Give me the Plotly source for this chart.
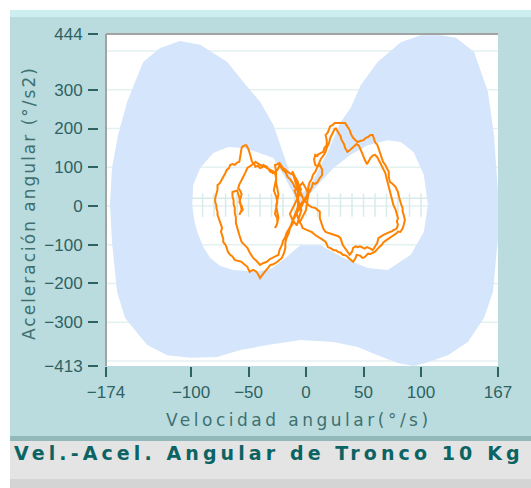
import plotly.graph_objects as go

# ---------------- data ----------------
X_RANGE = [-174, 167]
Y_RANGE = [-413, 444]
X_TICKS = [-174, -100, -50, 0, 50, 100, 167]
X_TICKTEXT = ["\u2212174", "\u2212100", "\u221250", "0", "50", "100", "167"]
Y_TICKS = [444, 300, 200, 100, 0, -100, -200, -300, -413]
Y_TICKTEXT = ["444", "300", "200", "100", "0", "\u2212100", "\u2212200", "\u2212300", "\u2212413"]
GRID_Y = [-400, -300, -200, -100, 0, 100, 200, 300, 400]
LADDER_X = [-100, -90, -80, -70, -60, -50, -40, -30, -20, -10, 0, 10, 20, 30, 40, 50, 60, 70, 80, 90, 100, 110]

# normative area (velocity, acceleration) - outer boundary
OUTER_V = [-109.5, -92, -68.5, -54.5, -39.7, -28.4, -17.9, -11.8, -5.7, -0.5, 6.5, 18.7, 30.1, 38.8, 47.5,
           62.3, 82.4, 99.8, 117.3, 130.4, 146.1, 158.3, 163.5, 167, 167, 162.6, 154.8, 140.8, 123.4, 106,
           93.7, 79.8, 62.3, 44.9, 24, -4.8, -33.6, -57.1, -77.2, -100.7, -120.8, -138.2, -157.4, -164.4,
           -168.8, -170.5, -168.8, -163.5, -155.7, -141.7, -126.9]
OUTER_A = [426, 416, 372, 320, 268, 209, 119, 67, 28, 41, 67, 139, 217, 253, 312,
           372, 423, 441, 441, 434, 398, 294, 183, 36, -83, -222, -289, -351, -385, -403,
           -413, -405, -385, -364, -351, -346, -359, -372, -390, -392, -385, -359, -289, -222,
           -93, 3, 98, 183, 268, 372, 408]
# inner (white) region
HOLE_V = [-28.4, -42.3, -54.5, -67.6, -80.7, -92, -98.1, -99, -97.3, -94.6, -89.4, -83.3, -74.6, -63.2,
          -42.3, -29.2, -17.9, -5, 12.6, 32.7, 53.6, 71.1, 91.1, 102.5, 106, 102.5, 93.7, 82.4, 71.1,
          53.6, 38.8, 24, 12.6, 1.3, -5, -11.8, -19.6]
HOLE_A = [124, 139, 150, 152, 137, 98, 54, 3, -36, -67, -106, -134, -155, -165,
          -170, -160, -134, -101, -101, -134, -160, -165, -126, -67, 3, 80, 139, 165, 170,
          157, 132, 98, 62, 23, -5, 36, 80]

# trunk trajectory: (velocity deg/s, acceleration deg/s2)
TRAJECTORY = [
    # left outer loop
    (-3, 23), (-5, 30), (-7, 36), (-8, 44), (-10, 49), (-11, 57), (-12, 62), (-14, 70), (-16, 75), (-17, 83),
    (-18, 88), (-20, 92), (-21, 98), (-22, 104), (-23, 106), (-24, 98), (-25, 93), (-27, 88), (-29, 85),
    (-30, 90), (-31, 88), (-33, 96), (-34, 101), (-36, 104), (-37, 106), (-38, 100), (-40, 98), (-42, 104),
    (-44, 101), (-45, 108), (-47, 114), (-48, 126), (-49, 139), (-50, 146), (-51, 152), (-52, 157), (-53, 157),
    (-55, 154), (-56, 150), (-57, 132), (-58, 114), (-60, 112), (-62, 106), (-64, 108), (-66, 106), (-67, 98),
    (-69, 93), (-70, 86), (-71, 80), (-73, 70), (-75, 59), (-76, 56), (-77, 54), (-77, 42), (-78, 30), (-79, 20),
    (-79, 10), (-78, 2), (-78, -5), (-77, -15), (-77, -23), (-76, -32), (-75, -40), (-74, -50), (-73, -57),
    (-74, -66), (-73, -75), (-72, -85), (-72, -93), (-70, -100), (-69, -108), (-68, -118), (-66, -126),
    (-64, -130), (-62, -139), (-59, -141), (-56, -144), (-54, -150), (-51, -157), (-50, -164), (-49, -170),
    (-47, -166), (-46, -165), (-44, -168), (-43, -170), (-41, -180), (-40, -186), (-38, -178), (-36, -170),
    (-34, -161), (-31, -152), (-29, -151), (-28, -150), (-26, -146), (-25, -144), (-23, -139), (-21, -134),
    (-19, -120), (-18, -108), (-18, -95), (-17, -83), (-15, -70), (-14, -57), (-12, -48), (-11, -41),
    (-11, -32), (-10, -23), (-8, -10), (-5, 3),
    # right outer loop
    (-2, 15), (0, 25), (2, 30), (3, 36), (5, 48), (6, 59), (8, 57), (10, 62), (12, 72), (14, 80), (14, 94),
    (12, 106), (10, 102), (8, 106), (7, 120), (8, 132), (10, 128), (10, 132), (13, 137), (15, 140), (16, 150),
    (18, 157), (18, 170), (17, 183), (19, 190), (20, 200), (21, 206), (23, 209), (25, 214), (27, 214), (31, 215),
    (34, 214), (36, 205), (38, 196), (39, 186), (41, 176), (43, 170), (45, 165), (47, 168), (50, 170), (52, 176),
    (54, 178), (56, 183), (58, 183), (59, 175), (60, 165), (62, 158), (63, 150), (64, 140), (65, 130), (66, 122),
    (67, 114), (69, 106), (70, 100), (71, 94), (72, 88), (72, 75), (73, 62), (75, 58), (78, 49), (79, 42),
    (80, 36), (81, 22), (82, 10), (83, 2), (84, -5), (84, -14), (85, -23), (86, -36), (85, -49), (84, -58),
    (82, -67), (80, -66), (79, -70), (77, -74), (75, -78), (73, -80), (71, -85), (69, -90), (67, -95),
    (66, -100), (64, -105), (62, -112), (60, -118), (58, -121), (56, -124), (54, -123), (53, -126), (51, -132),
    (49, -134), (47, -128), (44, -126), (43, -135), (41, -144), (39, -140), (37, -134), (35, -128), (32, -126),
    (30, -120), (28, -119), (26, -114), (24, -114), (22, -110), (19, -106), (18, -98), (17, -93), (15, -88),
    (12, -83), (10, -78), (8, -75), (6, -70), (5, -67), (3, -65), (1, -62), (-1, -60), (-3, -57), (-4, -48),
    (-6, -40), (-7, -30), (-8, -20), (-8, -10), (-7, 0),
    # left inner loop
    (-7, 20), (-7, 40), (-8, 52), (-7, 62), (-9, 72), (-11, 80), (-14, 85), (-16, 88), (-18, 94), (-20, 98),
    (-22, 106), (-23, 111), (-25, 108), (-27, 106), (-26, 88), (-26, 70), (-27, 55), (-28, 40), (-26, 25),
    (-25, 10), (-26, -5), (-27, -20), (-25, -32), (-25, -45), (-26, -52), (-27, -57), (-25, -44), (-24, -30),
    (-25, -15), (-26, 0), (-25, 15), (-24, 30), (-25, 45), (-26, 60), (-26, 72), (-27, 85), (-29, 90),
    (-31, 93), (-33, 98), (-36, 101), (-38, 104), (-40, 106), (-42, 111), (-44, 114), (-45, 110), (-47, 106),
    (-49, 100), (-51, 98), (-53, 85), (-55, 75), (-56, 67), (-58, 56), (-59, 46), (-57, 38), (-56, 30),
    (-57, 20), (-58, 10), (-56, 0), (-55, -10), (-57, -16), (-58, -23), (-56, -10), (-57, 5), (-58, 22),
    (-60, 40), (-62, 38), (-64, 36), (-64, 25), (-63, 15), (-63, 5), (-62, -5), (-62, -18), (-61, -30),
    (-61, -44), (-60, -57), (-59, -66), (-58, -75), (-57, -84), (-56, -93), (-54, -99), (-51, -108),
    (-49, -120), (-46, -134), (-43, -142), (-40, -152), (-37, -147), (-34, -144), (-32, -138), (-29, -134),
    (-27, -131), (-24, -126), (-23, -113), (-21, -101), (-20, -90), (-18, -80), (-17, -70), (-15, -60),
    (-13, -50), (-12, -40), (-10, -32), (-9, -25), (-8, -17), (-6, -10), (-4, -2), (-3, 5),
    # right inner loop
    (0, 20), (1, 30), (2, 40), (2, 50), (3, 60), (5, 70), (6, 80), (8, 88), (9, 95), (10, 105), (12, 115),
    (13, 122), (15, 130), (17, 140), (18, 150), (20, 162), (21, 175), (23, 186), (24, 195), (25, 199),
    (26, 200), (27, 195), (28, 190), (30, 180), (31, 170), (33, 160), (34, 150), (35, 145), (36, 140),
    (38, 144), (40, 150), (42, 156), (44, 160), (46, 156), (47, 150), (49, 135), (51, 120), (52, 112),
    (53, 108), (55, 118), (56, 124), (58, 130), (60, 132), (62, 126), (63, 120), (64, 112), (65, 106),
    (67, 95), (69, 85), (70, 72), (71, 60), (72, 48), (73, 36), (75, 20), (76, 3), (78, -10), (79, -23),
    (80, -32), (79, -40), (80, -48), (79, -57), (78, -60), (76, -62), (75, -65), (73, -67), (70, -70),
    (67, -75), (65, -79), (63, -83), (62, -95), (60, -106), (59, -110), (58, -114), (56, -110), (53, -106),
    (51, -110), (49, -108), (47, -104), (45, -106), (43, -104), (41, -108), (40, -118), (38, -126),
    (37, -122), (36, -119), (34, -110), (32, -101), (31, -92), (30, -83), (28, -78), (25, -75), (23, -72),
    (21, -70), (19, -69), (17, -67), (15, -58), (14, -49), (13, -40), (12, -31), (12, -23), (12, -15),
    (10, -10), (8, -5), (5, -3), (3, 0), (0, 10),
    # dense centre crossing
    (-2, 15), (-5, 38), (-8, 60), (-6, 50), (-4, 40), (-8, 65), (-12, 90), (-10, 70), (-6, 30), (-9, 10),
    (-14, -20), (-12, -35), (-8, -50), (-6, -30), (-4, -10), (-7, 15), (-10, 40), (-6, 50), (-3, 60),
    (0, 45), (2, 30), (1, 10), (0, -10), (-3, -28), (-6, -45),
]
VEL = [p[0] for p in TRAJECTORY]
ACC = [p[1] for p in TRAJECTORY]

TITLE = "Vel.-Acel. Angular de Tronco 10 Kg"
X_TITLE = "Velocidad angular(°/s)"
Y_TITLE = "Aceleración angular (°/s2)"

# ---------------- styles ----------------
TEAL = "#badcdf"
BLUE = "#d5e5fb"
GRID = "#e4f1f1"
LADDER = "#d8eaea"
ORANGE = "#ff8200"
TXT = "#2f6262"
W, H = 531, 488
ML, MR, MT, MB = 98, 33, 34, 122
PW, PH = W - ML - MR, H - MT - MB


def px(x):
    return (x - ML) / PW


def py(y):
    return (H - MB - y) / PH


def path(xs, ys):
    return "M " + " L ".join(f"{a},{b}" for a, b in zip(xs, ys)) + " Z"


fig = go.Figure()
fig.add_trace(go.Scatter(x=VEL, y=ACC, mode="lines",
                         line=dict(color=ORANGE, width=2), hoverinfo="skip",
                         showlegend=False))

shapes = []
for g in GRID_Y:
    shapes.append(dict(type="line", xref="x", yref="y", x0=X_RANGE[0], x1=X_RANGE[1], y0=g, y1=g,
                       line=dict(color=GRID, width=1.5), layer="below"))
shapes.append(dict(type="line", xref="x", yref="y", x0=LADDER_X[0], x1=LADDER_X[-1], y0=20, y1=20,
                   line=dict(color=LADDER, width=1.5), layer="below"))
for lx in LADDER_X:
    shapes.append(dict(type="line", xref="x", yref="y", x0=lx, x1=lx, y0=-28, y1=32,
                       line=dict(color=LADDER, width=1.5), layer="below"))
shapes.append(dict(type="path", xref="x", yref="y", layer="below",
                   path=path(OUTER_V, OUTER_A) + " " + path(HOLE_V, HOLE_A),
                   fillcolor=BLUE, fillrule="evenodd", line=dict(width=0)))

x_dom0 = 8 / PW


def rect(x0, x1, y0, y1, color):
    return dict(type="rect", xref="paper", yref="paper", x0=px(x0), x1=px(x1), y0=py(y1), y1=py(y0),
                fillcolor=color, line=dict(width=0), layer="above")


shapes += [
    rect(0, 10, 0, H, "#ffffff"),
    rect(0, W, 0, 10, "#ffffff"),
    rect(10, W, 10, 17, "#cdeef0"),
    rect(10, W, 436, 441, "#93b8ba"),
    rect(10, W, 441, 479, "#e4e4e4"),
    rect(10, W, 479, H, "#d4d4d4"),
]
shapes.append(dict(type="line", xref="paper", yref="paper", x0=x_dom0, x1=1, y0=1, y1=1,
                   line=dict(color="#a3a3a3", width=2), layer="above"))
shapes.append(dict(type="line", xref="paper", yref="paper", x0=x_dom0, x1=x_dom0, y0=0, y1=1,
                   line=dict(color="#a3a3a3", width=2), layer="above"))

ann = [
    dict(text=f'<span style="letter-spacing:4.1px">{TITLE}</span>', xref="paper", yref="paper",
         x=px(12), y=py(453), xanchor="left", yanchor="middle", showarrow=False,
         font=dict(family="DejaVu Sans", size=19, color="#0b6363", weight="bold")),
    dict(text=f'<span style="letter-spacing:3.5px">{X_TITLE}</span>', xref="paper", yref="paper",
         x=px(299), y=py(420), xanchor="center", yanchor="middle", showarrow=False,
         font=dict(family="DejaVu Sans", size=17, color="#3f7070")),
    dict(text=f'<span style="letter-spacing:2px">{Y_TITLE}</span>', xref="paper", yref="paper",
         x=px(29), y=py(203), xanchor="center", yanchor="middle", showarrow=False, textangle=-90,
         font=dict(family="DejaVu Sans", size=17, color="#3f7070")),
]

fig.update_layout(
    width=W, height=H, margin=dict(l=ML, r=MR, t=MT, b=MB, pad=0),
    paper_bgcolor=TEAL, plot_bgcolor="#ffffff",
    shapes=shapes, annotations=ann, showlegend=False,
    xaxis=dict(range=X_RANGE, domain=[x_dom0, 1], tickvals=X_TICKS, ticktext=X_TICKTEXT,
               showgrid=False, zeroline=False, showline=False, ticks="outside", ticklen=10,
               tickwidth=2, tickcolor=TXT, ticklabelstandoff=1,
               tickfont=dict(family="Liberation Sans", size=17, color=TXT), fixedrange=True),
    yaxis=dict(range=Y_RANGE, anchor="free", position=0, tickvals=Y_TICKS, ticktext=Y_TICKTEXT,
               showgrid=False, zeroline=False, showline=False, ticks="outside", ticklen=10,
               tickwidth=2, tickcolor=TXT, ticklabelstandoff=2,
               tickfont=dict(family="Liberation Sans", size=17, color=TXT), fixedrange=True),
)

fig.write_html("out.html")
